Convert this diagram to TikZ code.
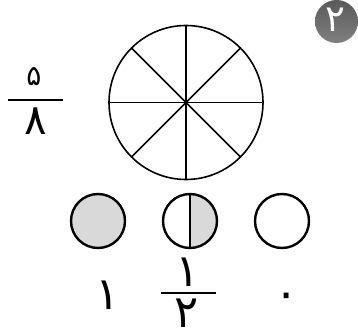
\documentclass[tikz,border=0pt]{standalone}
\usepackage{fontspec}
\newfontfamily\arabicfont[Script=Arabic]{DejaVu Sans}
\usetikzlibrary{calc}
\definecolor{cellgray}{HTML}{D9D9D9}
\definecolor{badgetop}{HTML}{5A5A5A}
\definecolor{badgebot}{HTML}{808080}
\tikzset{
  pie/.style={line width=1.6pt},
  disk/.style={line width=2.4pt},
  digit/.style={font=\arabicfont\fontsize{45}{45}\selectfont, inner sep=0pt, anchor=base},
  fracline/.style={line width=2.4pt}
}

\begin{document}
\begin{tikzpicture}[x=1pt,y=-1pt]
\useasboundingbox (0,0) rectangle (358,336);
    \pgfmathsetmacro{\bigr}{77}
    \pgfmathsetmacro{\smallr}{27}

% badge with the exercise number
\shade[top color=badgetop, bottom color=badgebot] (336.5,21.5) circle (21.5);
\node[digit, text=white, font=\arabicfont\fontsize{37}{37}\selectfont] (num) at (335.5,32) {۲};

% the circle cut into eight parts
\coordinate (c) at (186,102.5);
\draw[pie] (c) circle (\bigr);
\foreach \a in {0,45,...,135}
    \draw[pie] ($(c)+(\a:\bigr)$) -- ($(c)+(\a+180:\bigr)$);

% fraction on the left
\node[digit, font=\arabicfont\fontsize{28}{28}\selectfont] (fivetop) at (34,86) {۵};
\draw[fracline] (8,100) -- (63,100);
\node[digit, font=\arabicfont\fontsize{42}{42}\selectfont] (eightbot) at (36,135) {۸};

% the three small circles
\coordinate (full) at (98,221);
\coordinate (half) at (190,221);
\coordinate (empty) at (282,221);
\fill[cellgray] (full) circle (\smallr);
\draw[disk] (full) circle (\smallr);
\begin{scope}
    \clip ($(half)+(0,-30)$) rectangle ($(half)+(30,30)$);
    \fill[cellgray] (half) circle (\smallr);
\end{scope}
\draw[disk] (half) circle (\smallr);
\draw[disk] ($(half)+(0,-\smallr)$) -- ($(half)+(0,\smallr)$);
\draw[disk] (empty) circle (\smallr);

% labels under the circles
\node[digit] (one) at (108,309) {۱};
\node[digit] (halftop) at (187.5,286) {۱};
\draw[fracline] (161,292.7) -- (215.7,292.7);
\node[digit] (halfbot) at (186.5,327) {۲};
\node[digit] (zero) at (287,308) {۰};

\end{tikzpicture}
\end{document}
